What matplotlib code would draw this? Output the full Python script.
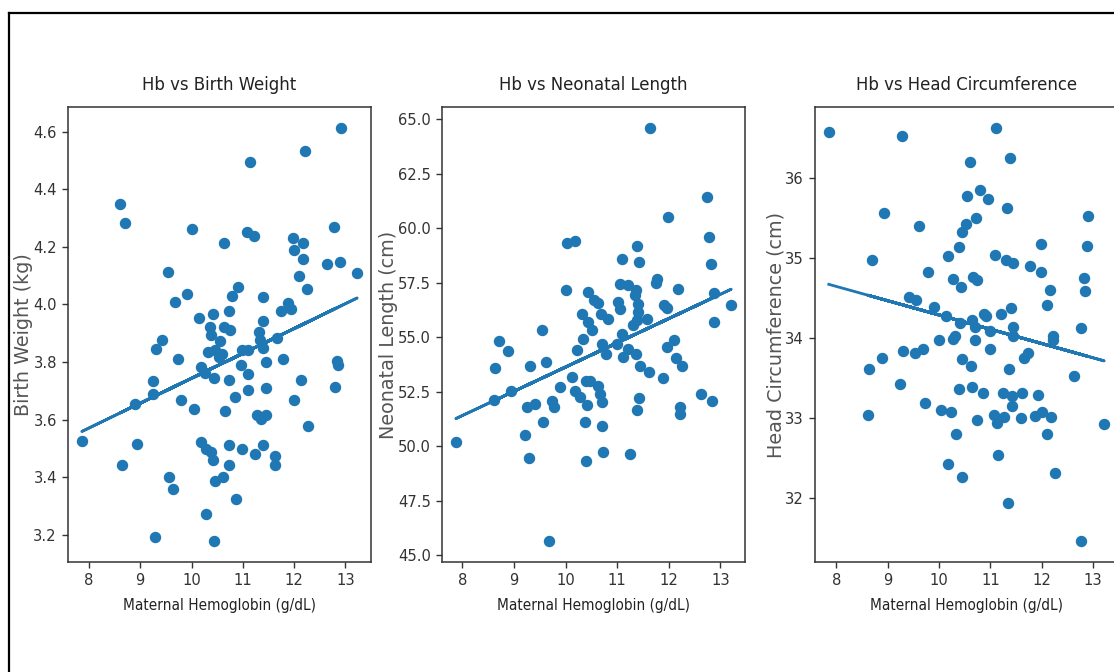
import numpy as np
import matplotlib
matplotlib.use("Agg")
import matplotlib.pyplot as plt
from matplotlib import font_manager
from matplotlib.font_manager import FontProperties
from matplotlib.lines import Line2D

# --- data ---
hb_bw = [12.92, 12.22, 11.14, 8.61, 8.70, 10.00, 12.77, 11.08, 11.22, 10.64,
         11.98, 12.00, 12.17, 12.18, 12.64, 12.90, 13.23, 9.54, 12.10, 12.25,
         10.91, 10.79, 9.91, 9.67, 11.40, 10.73, 10.41, 10.15, 10.36, 10.38,
         10.64, 10.75, 11.40, 11.32, 11.33, 11.74, 11.89, 11.93, 11.67, 9.42,
         9.30, 10.55, 10.33, 10.46, 10.60, 10.98, 11.11, 11.40, 9.73, 11.78,
         11.45, 10.96, 10.54, 10.18, 10.27, 10.44, 10.73, 11.11, 12.84, 12.85,
         9.25, 9.24, 8.89, 9.79, 10.04, 10.85, 11.11, 11.46, 12.13, 12.00,
         12.79, 10.66, 11.27, 11.35, 11.45, 12.28, 7.86, 8.94, 10.18, 10.28,
         10.38, 10.42, 10.73, 10.98, 11.24, 11.40, 11.63, 11.63, 8.65, 10.73,
         9.56, 9.63, 10.46, 10.62, 10.86, 10.28, 9.29, 10.44]
birth_weight = [4.614, 4.533, 4.494, 4.350, 4.283, 4.262, 4.268, 4.251, 4.236, 4.213,
                4.230, 4.190, 4.215, 4.158, 4.140, 4.147, 4.109, 4.112, 4.097, 4.054,
                4.059, 4.030, 4.035, 4.007, 4.027, 3.978, 3.967, 3.952, 3.923, 3.894,
                3.923, 3.911, 3.944, 3.905, 3.876, 3.978, 4.004, 3.983, 3.882, 3.878,
                3.844, 3.874, 3.836, 3.841, 3.827, 3.841, 3.841, 3.850, 3.812, 3.812,
                3.800, 3.789, 3.818, 3.783, 3.762, 3.745, 3.737, 3.758, 3.803, 3.790,
                3.733, 3.690, 3.655, 3.667, 3.638, 3.679, 3.702, 3.708, 3.739, 3.667,
                3.713, 3.629, 3.615, 3.603, 3.615, 3.578, 3.525, 3.516, 3.522, 3.499,
                3.489, 3.458, 3.513, 3.499, 3.479, 3.513, 3.472, 3.443, 3.443, 3.443,
                3.400, 3.359, 3.388, 3.402, 3.324, 3.272, 3.193, 3.177]

hb_len = [11.64, 12.75, 11.98, 12.77, 10.03, 10.19, 11.39, 11.43, 11.09, 12.82,
          11.77, 11.75, 10.00, 11.05, 11.21, 11.36, 11.34, 10.44, 12.17, 12.87,
          13.21, 10.55, 10.63, 11.01, 11.05, 11.41, 11.40, 10.32, 10.68, 10.82,
          11.38, 11.58, 11.91, 11.96, 10.44, 10.51, 11.31, 12.87, 9.54, 8.70,
          10.34, 10.22, 10.71, 10.79, 10.99, 11.10, 11.20, 11.12, 11.36, 11.44,
          11.62, 11.96, 12.10, 12.13, 12.25, 8.88, 8.64, 9.30, 9.61, 8.62,
          8.94, 9.90, 10.13, 10.18, 10.27, 10.39, 10.47, 10.63, 10.66, 10.71,
          10.42, 9.73, 9.77, 9.41, 9.25, 9.56, 11.88, 11.43, 11.38, 12.21,
          12.22, 12.62, 12.84, 10.38, 10.71, 9.22, 9.29, 10.40, 10.73, 11.25,
          7.87, 9.67]
neonatal_length = [64.62, 61.42, 60.51, 59.62, 59.35, 59.42, 59.21, 58.44, 58.59, 58.35,
                   57.66, 57.50, 57.17, 57.47, 57.40, 57.17, 56.94, 57.09, 57.21, 57.06,
                   56.47, 56.71, 56.60, 56.63, 56.32, 56.55, 56.17, 56.09, 56.09, 55.86,
                   55.78, 55.86, 56.47, 56.37, 55.71, 55.32, 55.55, 55.71, 55.32, 54.83,
                   54.94, 54.43, 54.71, 54.25, 54.71, 55.17, 54.48, 54.12, 54.25, 53.71,
                   53.40, 54.55, 54.86, 54.06, 53.71, 54.37, 53.60, 53.71, 53.89, 52.13,
                   52.56, 52.71, 53.17, 52.56, 52.28, 53.02, 53.02, 52.79, 52.40, 52.05,
                   51.91, 52.10, 51.82, 51.94, 51.82, 51.14, 53.13, 52.20, 51.67, 51.79,
                   51.51, 52.40, 52.10, 51.14, 50.94, 50.53, 49.49, 49.33, 49.75, 49.64,
                   50.22, 45.65]

hb_hc = [7.85, 9.28, 11.11, 10.60, 11.39, 10.79, 10.54, 10.96, 11.32, 8.93,
         12.90, 10.72, 10.53, 10.44, 9.61, 10.38, 10.18, 8.70, 11.09, 11.31,
         11.45, 11.78, 11.99, 12.88, 11.98, 9.78, 10.27, 10.43, 10.66, 10.73,
         12.83, 12.85, 12.17, 9.42, 9.56, 9.90, 10.14, 10.41, 10.64, 10.71,
         10.88, 10.92, 11.20, 11.40, 11.44, 11.44, 10.99, 12.10, 12.22, 12.23,
         12.77, 10.00, 10.28, 10.31, 10.71, 11.00, 9.30, 9.54, 9.68, 8.88,
         8.64, 10.44, 10.62, 11.37, 11.66, 11.74, 9.24, 10.39, 10.64, 10.85,
         11.24, 11.43, 11.61, 11.92, 12.64, 9.73, 8.61, 10.03, 10.23, 10.73,
         11.07, 11.12, 11.26, 11.42, 11.59, 11.87, 12.00, 12.18, 13.22, 10.34,
         12.11, 11.14, 10.17, 10.45, 12.26, 11.35, 12.77]
head_circ = [36.57, 36.52, 36.63, 36.20, 36.25, 35.85, 35.77, 35.74, 35.62, 35.56,
             35.53, 35.50, 35.43, 35.33, 35.40, 35.14, 35.02, 34.98, 35.04, 34.98,
             34.94, 34.90, 35.17, 35.15, 34.83, 34.82, 34.74, 34.64, 34.76, 34.72,
             34.75, 34.59, 34.60, 34.51, 34.48, 34.39, 34.27, 34.19, 34.23, 34.14,
             34.30, 34.27, 34.30, 34.38, 34.14, 34.03, 34.09, 34.41, 34.03, 33.98,
             34.12, 33.98, 33.99, 34.03, 33.98, 33.86, 33.84, 33.82, 33.86, 33.75,
             33.62, 33.74, 33.65, 33.62, 33.75, 33.81, 33.43, 33.37, 33.39, 33.32,
             33.32, 33.28, 33.31, 33.29, 33.53, 33.19, 33.04, 33.10, 33.08, 32.98,
             33.04, 32.94, 33.01, 33.15, 33.00, 33.03, 33.08, 33.01, 32.93, 32.80,
             32.80, 32.54, 32.43, 32.26, 32.31, 31.94, 31.46]

panels = [
    (hb_bw, birth_weight, "Hb vs Birth Weight", "Birth Weight (kg)"),
    (hb_len, neonatal_length, "Hb vs Neonatal Length", "Neonatal Length (cm)"),
    (hb_hc, head_circ, "Hb vs Head Circumference", "Head Circumference (cm)"),
]


def find_condensed():
    # the reference text is squeezed sideways, so look for a narrow face
    best = None
    for f in font_manager.fontManager.ttflist:
        fn = f.fname.lower()
        nm = f.name.lower()
        if any(w in fn for w in ("bold", "oblique", "italic", "mono", "light", "thin", "black")):
            continue
        if not ("condensed" in fn or "narrow" in fn or "condensed" in str(f.stretch).lower()):
            continue
        rank = 0 if "dejavu" in nm else 1 if "liberation" in nm else 2
        if best is None or rank < best[0]:
            best = (rank, f.fname)
    return best[1] if best else None


cond_path = find_condensed()


def fp(size):
    if cond_path:
        return FontProperties(fname=cond_path, size=size)
    return FontProperties(family="DejaVu Sans", size=size * 0.85)


fig = plt.figure(figsize=(11.14, 6.72), dpi=100)

# screenshot frame (top and left edges)
fig.add_artist(Line2D([9 / 1114, 1.0], [1 - 13 / 672, 1 - 13 / 672],
                      transform=fig.transFigure, color="black", lw=1.6))
fig.add_artist(Line2D([9 / 1114, 9 / 1114], [0.0, 1 - 13 / 672],
                      transform=fig.transFigure, color="black", lw=1.6))

lefts = [68, 442, 815]
for left, (x, y, title, ylab) in zip(lefts, panels):
    ax = fig.add_axes([left / 1114, 110 / 672, 303 / 1114, 455 / 672])
    x = np.array(x)
    y = np.array(y)
    ax.scatter(x, y, s=52, color="#1f77b4")
    k, b = np.polyfit(x, y, 1)
    ax.plot(x, k * x + b, color="#1f77b4", lw=2)
    ax.set_xticks([8, 9, 10, 11, 12, 13])
    ax.set_title(title, fontproperties=fp(13.2), pad=12, color="#222222")
    ax.set_xlabel("Maternal Hemoglobin (g/dL)", fontproperties=fp(11),
                  labelpad=7, color="#222222")
    ax.set_ylabel(ylab, fontsize=13.8, color="#555555", labelpad=0)
    for lab in ax.get_xticklabels() + ax.get_yticklabels():
        lab.set_fontproperties(fp(11.8))
        lab.set_color("#333333")
    ax.tick_params(length=4.5, width=1, color="#333333")
    for sp in ax.spines.values():
        sp.set_color("#333333")
        sp.set_linewidth(1.1)

plt.savefig("out.png", dpi=100)
